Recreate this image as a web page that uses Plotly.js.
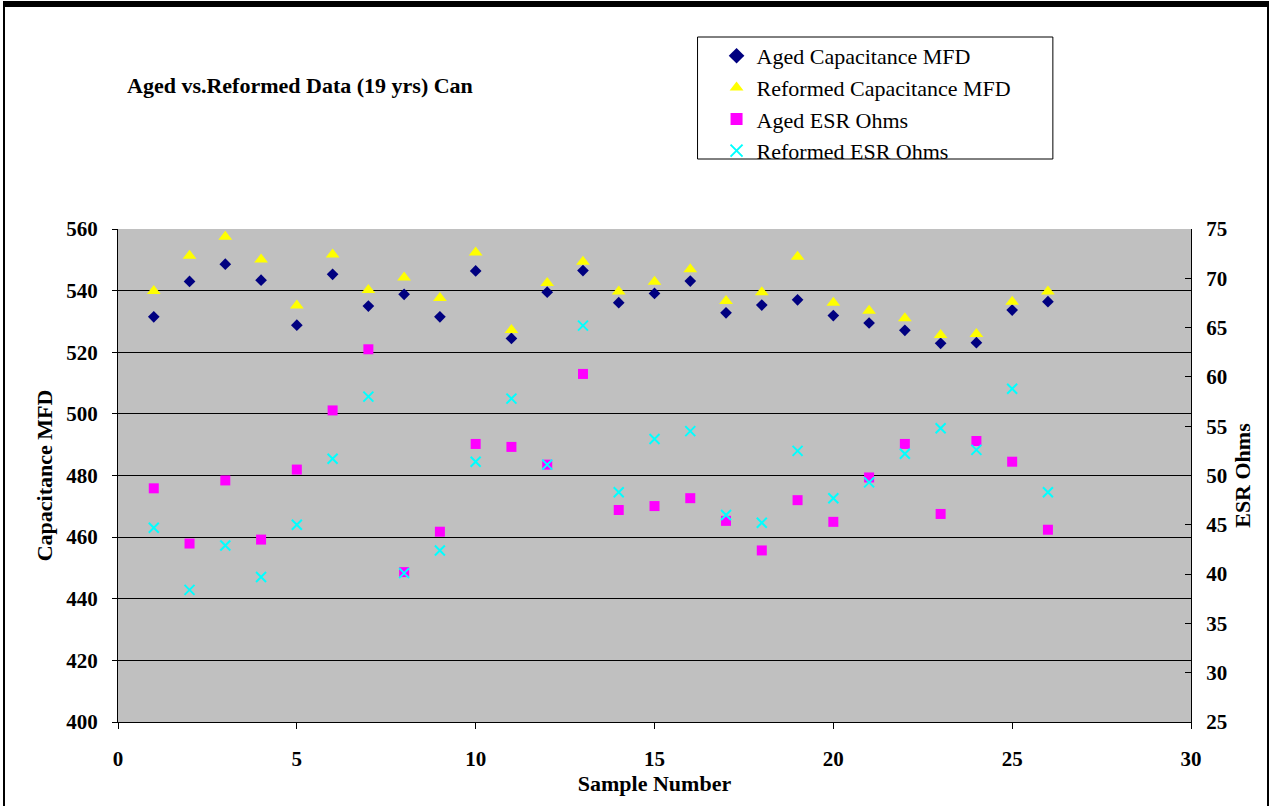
<!DOCTYPE html>
<html>
<head>
<meta charset="utf-8">
<script src="https://cdn.plot.ly/plotly-3.0.1.min.js"></script>
<style>
html,body{margin:0;padding:0;background:#fff;}
#frame{position:absolute;left:0;top:0;width:1273px;height:806px;overflow:hidden;}
#chart{position:absolute;left:0;top:0;width:1273px;height:806px;}
#bt{position:absolute;left:3px;top:1px;width:1266px;height:6px;background:#000;}
#bl{position:absolute;left:3px;top:1px;width:2px;height:806px;background:#000;}
#br{position:absolute;left:1267px;top:1px;width:2px;height:806px;background:#000;}
</style>
</head>
<body>
<div id="frame">
<div id="chart"></div>
<div id="bt"></div><div id="bl"></div><div id="br"></div>
</div>
<script>
var samples = [1,2,3,4,5,6,7,8,9,10,11,12,13,14,15,16,17,18,19,20,21,22,23,24,25,26];
var agedCap = [531.5,543.0,548.6,543.4,528.8,545.3,535.0,538.8,531.5,546.4,524.5,539.5,546.5,536.1,539.1,543.1,532.8,535.3,537.0,531.9,529.5,527.1,522.9,523.1,533.7,536.4];
var reformedCap = [539.9,551.3,557.5,550.1,535.2,551.7,540.2,544.3,537.6,552.4,527.2,542.5,549.4,539.7,542.9,546.9,536.6,539.5,551.0,536.1,533.5,531.0,525.6,525.9,536.4,539.7];
var agedESR = [48.7,43.1,49.5,43.5,50.6,56.6,62.8,40.2,44.3,53.2,52.9,51.1,60.3,46.5,46.9,47.7,45.4,42.4,47.5,45.3,49.8,53.2,46.1,53.5,51.4,44.5];
var reformedESR = [44.7,38.4,42.9,39.7,45.0,51.7,58.0,40.1,42.4,51.4,57.8,51.1,65.2,48.3,53.7,54.5,46.0,45.2,52.5,47.7,49.3,52.2,54.8,52.6,58.8,48.3];
var names = ["Aged Capacitance MFD","Reformed Capacitance MFD","Aged ESR Ohms","Reformed ESR Ohms"];
var xTicks = [0,5,10,15,20,25,30];
var capTicks = [400,420,440,460,480,500,520,540,560];
var esrTicks = [25,30,35,40,45,50,55,60,65,70,75];

function bold(a){ return a.map(function(v){ return "<b>" + v + "</b>"; }); }

var serif = "Liberation Serif, Times New Roman, serif";
var traces = [
  {x:samples, y:agedCap, name:names[0], type:"scatter", mode:"markers", yaxis:"y",
   marker:{symbol:"diamond", color:"#000080", size:9}},
  {x:samples, y:reformedCap, name:names[1], type:"scatter", mode:"markers", yaxis:"y",
   marker:{symbol:"triangle-up", color:"#FFFF00", size:12}},
  {x:samples, y:agedESR, name:names[2], type:"scatter", mode:"markers", yaxis:"y2",
   marker:{symbol:"square", color:"#FF00FF", size:10}},
  {x:samples, y:reformedESR, name:names[3], type:"scatter", mode:"markers", yaxis:"y2",
   marker:{symbol:"x-thin-open", color:"#00FFFF", size:10, line:{color:"#00FFFF", width:2}}}
];

var tickfont = {family:serif, size:21, color:"#000"};
var titlefont = {family:serif, size:22, color:"#000"};
var W = 1072, H = 493;
var layout = {
  width:1273, height:806,
  paper_bgcolor:"rgba(0,0,0,0)",
  plot_bgcolor:"#C0C0C0",
  margin:{l:118, r:82, t:229, b:84, pad:0},
  showlegend:true,
  legend:{x:(716-118)/W, y:(722-35)/H, xanchor:"left", yanchor:"top",
    bgcolor:"rgba(0,0,0,0)", borderwidth:0,
    font:{family:serif, size:22, color:"#000"},
    itemsizing:"constant", tracegroupgap:0},
  shapes:[
    {type:"rect", xref:"paper", yref:"paper", x0:(697-118)/W, x1:(1052-118)/W,
     y0:(722-159)/H, y1:(722-37)/H, fillcolor:"#FFFFFF", line:{color:"#000", width:1}, layer:"above"}
  ],
  xaxis:{range:[0,30], tickmode:"array", tickvals:xTicks, ticktext:bold(xTicks),
    showgrid:false, zeroline:false,
    showline:true, linecolor:"#000", linewidth:1,
    ticks:"outside", ticklen:6, tickcolor:"#000", ticklabelstandoff:12,
    tickfont:tickfont,
    title:{text:"<b>Sample Number</b>", font:titlefont, standoff:4}},
  yaxis:{range:[400,560], tickmode:"array", tickvals:capTicks, ticktext:bold(capTicks),
    showgrid:true, gridcolor:"#000", gridwidth:1,
    zeroline:false, showline:true, linecolor:"#000", linewidth:1,
    ticks:"outside", ticklen:5, tickcolor:"#000", ticklabelstandoff:10,
    tickfont:tickfont,
    title:{text:"<b>Capacitance MFD</b>", font:titlefont, standoff:7}},
  yaxis2:{range:[25,75], tickmode:"array", tickvals:esrTicks, ticktext:bold(esrTicks),
    overlaying:"y", side:"right",
    showgrid:false, zeroline:false, showline:true, linecolor:"#000", linewidth:1,
    ticks:"inside", ticklen:6, tickcolor:"#000", ticklabelstandoff:10,
    tickfont:tickfont,
    title:{text:"<b>ESR Ohms</b>", font:titlefont, standoff:8}},
  annotations:[
    {text:"<b>Aged vs.Reformed Data (19 yrs) Can</b>", xref:"paper", yref:"paper",
     x:(125-118)/W, y:(722-85)/H, xanchor:"left", yanchor:"middle", showarrow:false,
     font:{family:serif, size:22, color:"#000"}}
  ]
};
Plotly.newPlot("chart", traces, layout, {displayModeBar:false, staticPlot:true});
</script>
</body>
</html>
